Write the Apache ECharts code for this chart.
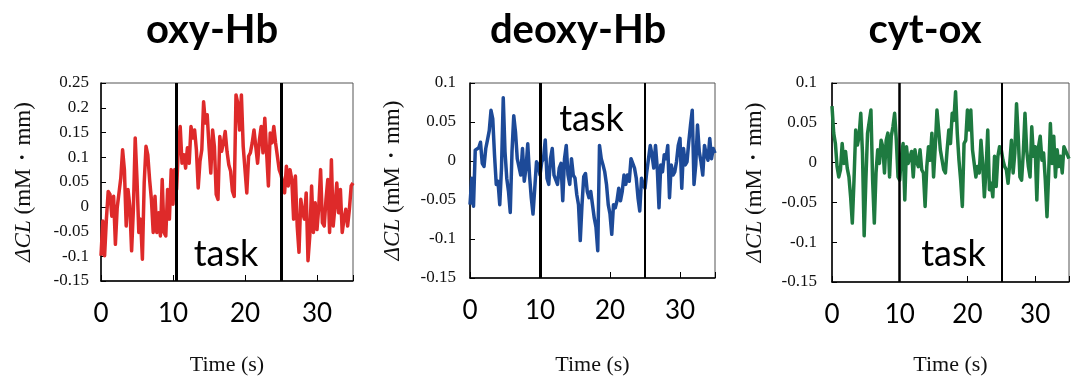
<!DOCTYPE html>
<html>
<head>
<meta charset="utf-8">
<script src="https://cdn.jsdelivr.net/npm/echarts@6/dist/echarts.min.js"></script>
<style>
  html,body{margin:0;padding:0;background:#fff;}
  #main{width:1072px;height:381px;}
</style>
</head>
<body>
<div id="main"></div>
<script>
// sampled every 0.25 s, 0 .. 35 s
let sampleStep = 0.25
let xTicks = [0, 10, 20, 30]

let oxyHb = [
  -0.099, -0.029, -0.099, -0.025, 0.031, 0.025, -0.019, 0.021, -0.076, -0.002, 0.028,
  0.058, 0.115, 0.075, -0.039, 0.035, 0.001, -0.089, -0.005, 0.139, 0.055,
  -0.052, -0.025, -0.106, 0.048, 0.122, 0.105, 0.055, 0.015, -0.052, 0.021,
  -0.052, -0.012, -0.059, 0.055, -0.052, -0.059, 0.035, -0.025, 0.075, 0.005,
  0.075, 0.035, 0.122, 0.162, 0.088, 0.105, 0.078, 0.119, 0.088, 0.162,
  0.139, 0.155, 0.115, 0.038, 0.092, 0.115, 0.212, 0.169, 0.186, 0.122,
  0.068, 0.155, 0.122, 0.025, 0.015, 0.142, 0.112, 0.129, 0.152, 0.112,
  0.085, 0.072, 0.032, 0.021, 0.226, 0.209, 0.155, 0.226, 0.122, 0.122,
  0.028, 0.102, 0.109, 0.129, 0.155, 0.155, 0.088, 0.135, 0.162, 0.109,
  0.179, 0.176, 0.042, 0.149, 0.129, 0.162, 0.129, 0.129, 0.075, 0.065,
  0.048, 0.028, 0.082, 0.042, 0.075, 0.055, -0.025, 0.062, -0.039, -0.092,
  0.015, -0.012, -0.025, 0.028, -0.109, -0.059, 0.042, -0.052, 0.008, -0.046,
  0.001, 0.075, -0.032, -0.039, 0.015, 0.055, -0.052, 0.095, -0.039, 0.001,
  0.048, -0.012, 0.035, -0.052, -0.025, -0.005, -0.039, -0.005, 0.042, 0.048
]

let deoxyHb = [
  -0.056, -0.022, -0.058, 0.014, 0.015, 0.017, 0.024, -0.003, -0.007, 0.016, 0.027,
  0.039, 0.065, 0.054, 0.008, -0.030, -0.026, -0.056, -0.009, 0.081, 0.012,
  -0.022, -0.039, -0.066, 0.012, 0.058, 0.037, 0.003, 0.001, -0.018, 0.016,
  -0.026, -0.009, 0.022, -0.018, -0.047, -0.068, -0.035, -0.001, -0.005, -0.018,
  -0.001, 0.003, 0.027, -0.022, -0.030, 0.003, 0.016, -0.018, -0.020, -0.030,
  -0.009, -0.003, -0.051, 0.003, 0.020, -0.018, -0.030, 0.003, -0.018, -0.022,
  -0.043, -0.056, -0.102, -0.056, -0.020, -0.016, -0.039, -0.047, -0.039, -0.056,
  -0.073, -0.085, -0.115, 0.020, 0.003, -0.005, -0.014, -0.030, -0.056, -0.068,
  -0.094, -0.056, -0.060, -0.051, -0.035, -0.051, -0.039, -0.018, -0.030, -0.018,
  -0.026, 0.003, 0.005, -0.009, -0.022, -0.047, -0.064, -0.022, -0.030, -0.035,
  -0.014, 0.003, 0.020, 0.008, -0.009, 0.020, -0.009, -0.060, -0.005, -0.014,
  0.008, 0.003, 0.020, -0.047, -0.005, -0.018, -0.014, -0.001, 0.020, 0.029,
  -0.035, 0.016, -0.005, -0.001, 0.024, 0.046, 0.065, -0.030, -0.005, 0.046,
  0.012, -0.001, -0.018, 0.020, 0.008, 0.001, 0.029, 0.003, 0.016, 0.010
]

let cytOx = [
  0.071, 0.037, 0.024, -0.005, -0.018, -0.009, 0.024, -0.001, 0.014, -0.007, -0.018,
  -0.043, -0.076, -0.022, 0.041, 0.022, 0.033, 0.062, 0.012, -0.092, -0.022,
  0.037, 0.037, 0.066, -0.022, -0.076, -0.013, 0.016, -0.001, 0.028, 0.020,
  -0.013, 0.028, 0.037, -0.018, 0.033, 0.045, 0.062, 0.028, -0.018, -0.022,
  0.008, 0.024, -0.047, 0.020, -0.001, -0.003, 0.014, -0.018, 0.016, 0.001,
  -0.005, 0.016, -0.009, -0.013, -0.055, -0.005, 0.020, 0.003, 0.037, -0.018,
  0.020, 0.066, 0.041, 0.016, 0.016, -0.009, -0.013, 0.016, 0.041, 0.024,
  0.062, 0.053, 0.089, 0.037, 0.003, -0.022, -0.055, 0.024, 0.028, 0.066,
  0.041, 0.066, 0.016, 0.016, -0.018, -0.005, -0.013, 0.028, -0.001, -0.043,
  -0.009, 0.041, -0.034, -0.026, -0.043, 0.008, -0.030, 0.008, 0.020, 0.016,
  0.003, -0.005, -0.009, -0.026, -0.001, 0.028, -0.013, 0.012, 0.074, 0.033,
  -0.018, -0.022, 0.012, 0.062, 0.016, -0.005, -0.018, 0.045, 0.008, 0.020,
  -0.047, 0.020, 0.033, 0.003, 0.012, -0.022, -0.068, -0.013, 0.049, -0.001,
  0.033, -0.018, 0.016, -0.005, 0.008, -0.013, 0.020, 0.020, 0.010, 0.005
]

// task start / end (s) for each panel
let taskOxy = [10.4, 25.1]
let taskDeoxy = [10.0, 25.0]
let taskCyt = [9.9, 25.1]

let panels = [
  {title: 'oxy-Hb', data: oxyHb, color: '#de2a2a', task: taskOxy, yMin: -0.15, yMax: 0.25,
   grid: {left: 101, top: 83, width: 252, height: 199}, labelGap: 12, taskW: [3, 3], taskY: 254, timeGap: 73},
  {title: 'deoxy-Hb', data: deoxyHb, color: '#1d4a98', task: taskDeoxy, yMin: -0.15, yMax: 0.1,
   grid: {left: 470, top: 83, width: 245, height: 196}, labelGap: 14, taskW: [3, 2], taskY: 119, timeGap: 76},
  {title: 'cyt-ox', data: cytOx, color: '#1e7a40', task: taskCyt, yMin: -0.15, yMax: 0.1,
   grid: {left: 832, top: 83, width: 245, height: 200}, labelGap: 15, taskW: [2.5, 2], taskY: 254, timeGap: 72}
]
let titleX = [212, 578, 925]

function pairs(arr){
  let out = []
  for (let i = 0; i < arr.length; i++) {
    out.push([i * sampleStep, arr[i]])
  }
  return out
}

let grids = [], xAxes = [], yAxes = [], series = [], graphics = []

panels.forEach(function(p, i){
  grids.push(Object.assign({show: true, borderColor: '#555', borderWidth: 1, backgroundColor: '#fff'}, p.grid))
  xAxes.push({
    type: 'value', gridIndex: i, min: 0, max: 35, interval: 10,
    axisLine: {show: true, onZero: false, lineStyle: {color: '#000', width: 1.5}},
    axisTick: {show: true, inside: true, length: 6, lineStyle: {color: '#000'}},
    splitLine: {show: false},
    axisLabel: {
      margin: 20, color: '#000', fontFamily: 'Lato', fontSize: 26,
      formatter: function(v){ return xTicks.indexOf(v) >= 0 ? String(v) : '' }
    },
    name: 'Time (s)', nameLocation: 'middle', nameGap: p.timeGap,
    nameTextStyle: {fontFamily: 'Liberation Serif', fontSize: 22, color: '#111'}
  })
  yAxes.push({
    type: 'value', gridIndex: i, min: p.yMin, max: p.yMax, interval: 0.05,
    axisLine: {show: true, onZero: false, lineStyle: {color: '#000', width: 1.5}},
    axisTick: {show: true, inside: true, length: 5, lineStyle: {color: '#000'}},
    splitLine: {show: false},
    axisLabel: {
      margin: p.labelGap, color: '#111', fontFamily: 'Liberation Serif', fontSize: 17,
      formatter: function(v){ return String(Math.round(v * 100) / 100) }
    },
    name: '{i|ΔCL} (mM・mm)', nameLocation: 'middle', nameGap: 66,
    nameTextStyle: {
      fontFamily: 'Liberation Serif', fontSize: 23, color: '#111',
      rich: {i: {fontStyle: 'italic', fontFamily: 'Liberation Serif', fontSize: 23, color: '#111'}}
    }
  })
  series.push({
    type: 'line', xAxisIndex: i, yAxisIndex: i, data: pairs(p.data),
    showSymbol: false, symbol: 'none', animation: false,
    lineStyle: {color: p.color, width: 3.5, join: 'round'},
    markLine: {
      silent: true, symbol: ['none', 'none'], animation: false,
      label: {show: false},
      data: [
        {xAxis: p.task[0], lineStyle: {color: '#000', width: p.taskW[0], type: 'solid'}},
        {xAxis: p.task[1], lineStyle: {color: '#000', width: p.taskW[1], type: 'solid'}}
      ]
    }
  })
  graphics.push({
    type: 'text', x: titleX[i], y: 30, z: 10,
    style: {text: p.title, font: 'bold 40px Lato', fill: '#000', textAlign: 'center', textVerticalAlign: 'middle'}
  })
  graphics.push({
    type: 'text', x: p.grid.left + p.grid.width / 2 - 1, y: p.taskY, z: 10,
    style: {text: 'task', font: '36px Lato', fill: '#000', textAlign: 'center', textVerticalAlign: 'middle'}
  })
})

let myChart = echarts.init(document.getElementById('main'), null, {renderer: 'canvas'})
myChart.setOption({
  animation: false,
  backgroundColor: '#fff',
  grid: grids,
  xAxis: xAxes,
  yAxis: yAxes,
  series: series,
  graphic: graphics
})
</script>
</body>
</html>
